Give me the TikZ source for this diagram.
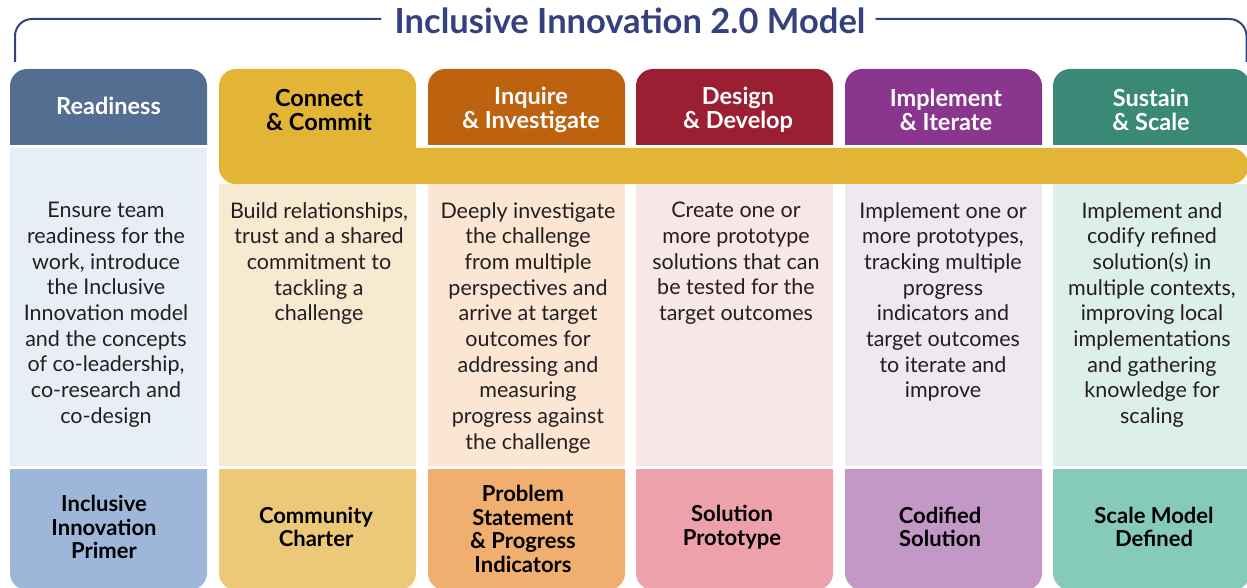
\documentclass[tikz,border=0pt]{standalone}
\usepackage{fontspec}
\setmainfont{Lato}
\definecolor{navy}{HTML}{35407F}
\definecolor{txt}{HTML}{231F20}
\definecolor{readH}{HTML}{546E91}\definecolor{readB}{HTML}{E8EEF6}\definecolor{readF}{HTML}{9DB6DA}
\definecolor{conH}{HTML}{E3B536}\definecolor{conB}{HTML}{F7EAD1}\definecolor{conF}{HTML}{EBC978}
\definecolor{inqH}{HTML}{BD620F}\definecolor{inqB}{HTML}{FBE6D4}\definecolor{inqF}{HTML}{F0AE6F}
\definecolor{desH}{HTML}{9A1F32}\definecolor{desB}{HTML}{F8E7E8}\definecolor{desF}{HTML}{EDA1AA}
\definecolor{impH}{HTML}{8A368F}\definecolor{impB}{HTML}{F0E8F1}\definecolor{impF}{HTML}{C498C6}
\definecolor{susH}{HTML}{3A8876}\definecolor{susB}{HTML}{DDEFEA}\definecolor{susF}{HTML}{86CBB9}
\newcommand\stagehead[2]{%
  \begin{scope}\clip (#1,0) rectangle ++(197,145);
  \fill[#2,rounded corners=17] (#1,69) rectangle ++(197,120);\end{scope}}
\newcommand\stagebody[3]{\fill[#2] (#1,#3) rectangle (#1+197,466);}
\newcommand\stagefoot[2]{%
  \begin{scope}\clip (#1,469) rectangle ++(197,130);
  \fill[#2,rounded corners=17] (#1,420) rectangle (#1+197,590);\end{scope}}
\tikzset{
  headtxt/.style={font=\fontsize{23.5}{24.5}\selectfont\bfseries, align=center, text=white, inner sep=0},
  bodytxt/.style={font=\fontsize{21.5}{25.7}\selectfont, align=center, text=txt, anchor=north, inner sep=0},
  foottxt/.style={font=\fontsize{22}{23.4}\selectfont\bfseries, align=center, text=black, inner sep=0},
}
\begin{document}
\begin{tikzpicture}[x=1pt,y=-1pt]
\useasboundingbox (0,0) rectangle (1247,588);
% title and bracket
\node[font=\fontsize{34.5}{38}\selectfont\bfseries, text=navy, inner sep=0] (title) at (630,21) {Inclusive Innovation 2.0 Model};
\coordinate (bl) at (15,62);
\coordinate (br) at (1246.5,62);
\draw[navy, line width=2pt, rounded corners=17] ([xshift=-13pt]title.west |- 0,19) -- (15,19) -- (bl);
\draw[navy, line width=2pt, rounded corners=17] ([xshift=10pt]title.east |- 0,19) -- (1246.5,19) -- (br);
% columns
\stagehead{10}{readH}\stagebody{10}{readB}{148}\stagefoot{10}{readF}
\stagebody{219}{conB}{184}\stagefoot{219}{conF}
\stagehead{428}{inqH}\stagebody{428}{inqB}{184}\stagefoot{428}{inqF}
\stagehead{636}{desH}\stagebody{636}{desB}{184}\stagefoot{636}{desF}
\stagehead{845}{impH}\stagebody{845}{impB}{184}\stagefoot{845}{impF}
\stagehead{1053}{susH}\stagebody{1053}{susB}{184}\stagefoot{1053}{susF}
% gold band
\fill[conH, rounded corners=17] (219,69) rectangle (416,184);
\fill[conH, rounded corners=17] (219,148) rectangle (1248,184);
% header texts
\node[headtxt] (h1) at (108.5,106) {Readiness};
\node[headtxt, text=black] (h2) at (319,110) {Connect\\\& Commit};
\node[headtxt] (h3) at (531,110) {Inquire\\\& Investigate};
\node[headtxt] (h4) at (738,110) {Design\\\& Develop};
\node[headtxt] (h5) at (946,110) {Implement\\\& Iterate};
\node[headtxt] (h6) at (1151,110) {Sustain\\\& Scale};
% body texts
\node[bodytxt] (b1) at (106,202) {Ensure team\\readiness for the\\work, introduce\\the Inclusive\\Innovation model\\and the concepts\\of co-leadership,\\co-research and\\co-design};
\node[bodytxt] (b2) at (319,202) {Build relationships,\\trust and a shared\\commitment to\\tackling a\\challenge};
\node[bodytxt] (b3) at (528,202) {Deeply investigate\\the challenge\\from multiple\\perspectives and\\arrive at target\\outcomes for\\addressing and\\measuring\\progress against\\the challenge};
\node[bodytxt] (b4) at (736,202) {Create one or\\more prototype\\solutions that can\\be tested for the\\target outcomes};
\node[bodytxt] (b5) at (943,202) {Implement one or\\more prototypes,\\tracking multiple\\progress\\indicators and\\target outcomes\\to iterate and\\improve};
\node[bodytxt] (b6) at (1152,202) {Implement and\\codify refined\\solution(s) in\\multiple contexts,\\improving local\\implementations\\and gathering\\knowledge for\\scaling};
% foot texts
\node[foottxt] (f1) at (104,527) {Inclusive\\Innovation\\Primer};
\node[foottxt] (f2) at (316,527) {Community\\Charter};
\node[foottxt] (f3) at (523,529) {Problem\\Statement\\\& Progress\\Indicators};
\node[foottxt] (f4) at (732,527) {Solution\\Prototype};
\node[foottxt] (f5) at (940,527) {Codified\\Solution};
\node[foottxt] (f6) at (1154,527) {Scale Model\\Defined};
\end{tikzpicture}
\end{document}
